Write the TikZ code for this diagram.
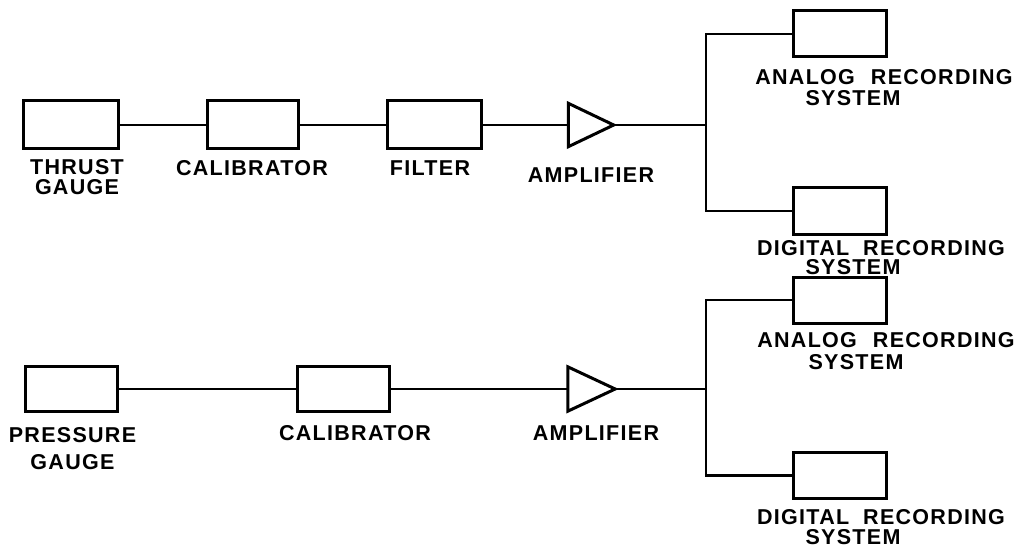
\documentclass[tikz,border=0pt]{standalone}
\usepackage{fontspec}
\setmainfont{Liberation Sans}[LetterSpace=6]
\begin{document}
\begin{tikzpicture}[x=1pt,y=-1pt,
  blk/.style={draw,line width=3pt,minimum width=#1,minimum height=46pt,inner sep=0pt},
  blk/.default=93pt,
  ampbox/.style={minimum width=45pt,minimum height=43pt,inner sep=0pt},
  tri/.style={draw,line width=3pt,line join=miter},
  wire/.style={draw,line width=2.8pt},
  lbl/.style={font=\bfseries\fontsize{21.5}{20}\selectfont,align=center,inner sep=0pt},
]
\useasboundingbox (0,0) rectangle (1025,548);
% ---------- top chain ----------
\node[blk=95pt,minimum height=48pt] (tg) at (70.5,125) {};
\node[blk=91pt,minimum height=48pt] (cal1) at (252.5,125) {};
\node[blk=94pt,minimum height=48pt] (filt) at (434,125) {};
\node[ampbox] (amp1) at (591,125) {};
\draw[tri] (amp1.north west) -- (amp1.east) -- (amp1.south west) -- cycle;
\coordinate (j1) at (706,125);
\node[blk] (an1) at (839.5,34) {};
\node[blk] (dg1) at (839.5,211) {};

\draw[wire] (tg) -- (cal1);
\draw[wire] (cal1) -- (filt);
\draw[wire] (filt.east) -- (amp1.west);
\draw[wire] (amp1.east) -- (j1);
\draw[wire] (an1.west) -| (j1);
\draw[wire] (dg1.west) -| (j1);

\node[lbl] (ltg) at (77,177.5) {THRUST\\GAUGE};
\node[lbl] (lcal1) at (252,168) {CALIBRATOR};
\node[lbl] (lfilt) at (430,168) {FILTER};
\node[lbl] (lamp1) at (591,175) {AMPLIFIER};
\node[lbl,font=\bfseries\fontsize{21.5}{21}\selectfont] (lan1) at (884,87.5) {ANALOG\hspace{16pt}RECORDING\\\hspace*{-62pt}SYSTEM};
\node[lbl,font=\bfseries\fontsize{21.5}{19}\selectfont] (ldg1) at (881,257.5) {DIGITAL\hspace{14pt}RECORDING\\\hspace*{-56pt}SYSTEM};

% ---------- bottom chain ----------
\node[blk=92pt,minimum height=45pt] (pg) at (71,389) {};
\node[blk=92pt,minimum height=45pt] (cal2) at (343,389) {};
\node[ampbox,minimum width=47pt,minimum height=44pt] (amp2) at (591.5,389) {};
\draw[tri] (amp2.north west) -- (amp2.east) -- (amp2.south west) -- cycle;
\coordinate (j2) at (706,389);
\node[blk] (an2) at (839.5,300) {};
\node[blk] (dg2) at (840,475.5) {};

\draw[wire] (pg) -- (cal2);
\draw[wire] (cal2.east) -- (amp2.west);
\draw[wire] (amp2.east) -- (j2);
\draw[wire] (an2.west) -| (j2);
\draw[wire] (dg2.west) -| (j2);

\node[lbl,font=\bfseries\fontsize{21.5}{27}\selectfont] (lpg) at (72.5,448.5) {PRESSURE\\GAUGE};
\node[lbl] (lcal2) at (355,433) {CALIBRATOR};
\node[lbl] (lamp2) at (596,433) {AMPLIFIER};
\node[lbl,font=\bfseries\fontsize{21.5}{22}\selectfont] (lan2) at (886,351) {ANALOG\hspace{16pt}RECORDING\\\hspace*{-60pt}SYSTEM};
\node[lbl,font=\bfseries\fontsize{21.5}{20}\selectfont] (ldg2) at (881,527) {DIGITAL\hspace{14pt}RECORDING\\\hspace*{-56pt}SYSTEM};
\end{tikzpicture}
\end{document}
